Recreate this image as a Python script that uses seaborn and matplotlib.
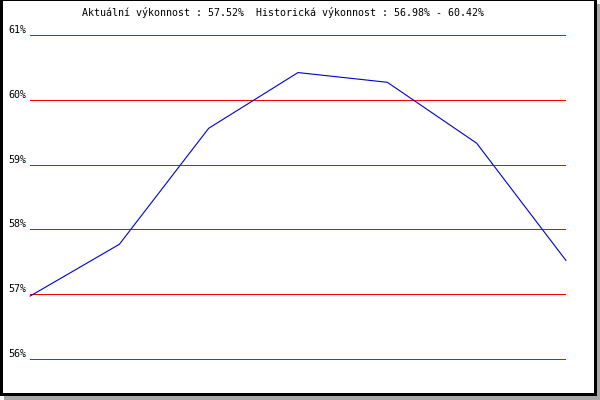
import numpy as np
import pandas as pd
import matplotlib
matplotlib.use('Agg')
import matplotlib.pyplot as plt
from matplotlib.patches import Rectangle
import seaborn as sns

# data
periods = [1, 2, 3, 4, 5, 6, 7]
vykonnost = [56.97, 57.77, 59.56, 60.42, 60.27, 59.33, 57.52]
ytick_vals = [56, 57, 58, 59, 60, 61]
ytick_labels = ['56%', '57%', '58%', '59%', '60%', '61%']
title = 'Aktuální výkonnost : 57.52%  Historická výkonnost : 56.98% - 60.42%'

df = pd.DataFrame({'period': periods, 'value': vykonnost})

sns.set_style('white')
plt.rcParams['font.family'] = ['DejaVu Sans Mono', 'DejaVu Sans']
plt.rcParams['text.color'] = 'black'
plt.rcParams['ytick.color'] = 'black'

W, H = 600, 400
fig = plt.figure(figsize=(6, 4), dpi=100)
fig.patch.set_facecolor('white')

# frame: grey shadow, black border, white inside
fig.patches.append(Rectangle((4 / W, 0), 596 / W, 396 / H, transform=fig.transFigure,
                             facecolor='#a8a8a8', edgecolor='none', zorder=-3))
fig.patches.append(Rectangle((0, 4 / H), 597 / W, 396 / H, transform=fig.transFigure,
                             facecolor='black', edgecolor='none', zorder=-2))
fig.patches.append(Rectangle((3 / W, 7 / H), 591 / W, 392 / H, transform=fig.transFigure,
                             facecolor='white', edgecolor='none', zorder=-1))

# plot area: 56% at y=359px, 61% at y=35px, x from 30 to 566
ylo, yhi = 55.9, 61.1
px_per = 65.0
top_px = 35 - (yhi - 61) * px_per
bot_px = 359 + (56 - ylo) * px_per
ax = fig.add_axes([30 / W, (H - bot_px) / H, 536 / W, (bot_px - top_px) / H])
ax.set_zorder(2)
ax.set_facecolor('none')

sns.lineplot(data=df, x='period', y='value', color='#0000cc', linewidth=0.8, ax=ax,
             zorder=3, clip_on=False)

ax.set_xlim(periods[0], periods[-1])
ax.set_ylim(ylo, yhi)
ax.set_xticks([])
ax.set_yticks(ytick_vals)
ax.set_yticklabels(ytick_labels, va='bottom', fontsize=7.2, color='black')
ax.tick_params(axis='y', length=0, pad=2.5, labelcolor='black')
ax.yaxis.grid(True, color='#ff0000', linewidth=0.6, antialiased=False)
ax.set_axisbelow(True)
ax.set_xlabel('')
ax.set_ylabel('')
for s in ax.spines.values():
    s.set_visible(False)

fig.text(283 / W, 1 - 13 / H, title, ha='center', va='center', fontsize=7.2,
         color='black', zorder=3)

plt.savefig('out.png', dpi=100)
